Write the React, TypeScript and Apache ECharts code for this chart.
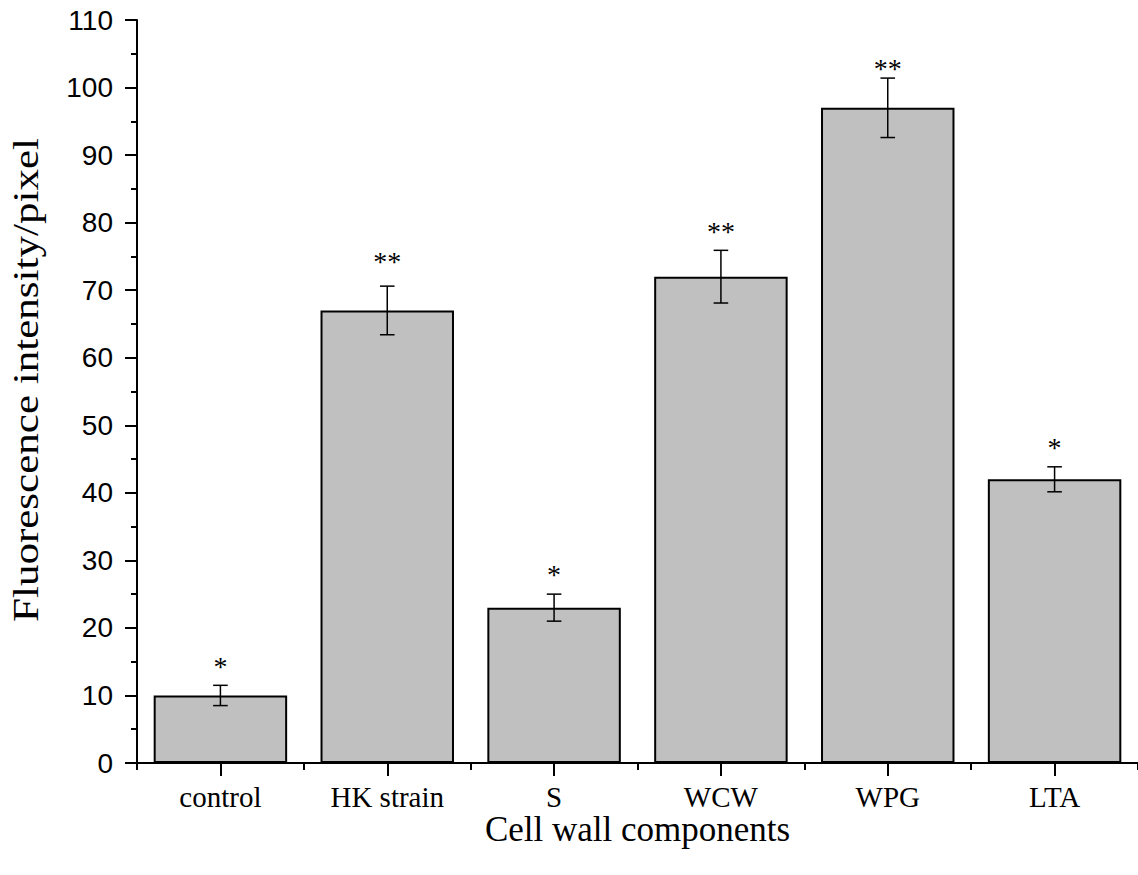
import React, { useEffect, useRef } from "react";
import * as echarts from "echarts";

const categories = ["control", "HK strain", "S", "WCW", "WPG", "LTA"];
const means = [10, 67, 23, 72, 97, 42];
const errors = [1.5, 3.6, 2.0, 3.9, 4.4, 1.85];
const stars = ["*", "**", "*", "**", "**", "*"];
const starLevels = [14.8, 74.7, 28.3, 79.2, 103.3, 47.1];
const yTicks = { min: 0, max: 110, interval: 10 };
const yTitle = "Fluorescence intensity/pixel";
const xTitle = "Cell wall components";

export default function App() {
  const ref = useRef<HTMLDivElement>(null);
  useEffect(() => {
    if (!ref.current) return;
    const chart = echarts.init(ref.current, undefined, { renderer: "svg" });
    const errData = categories.map((c, i) => [i, means[i], errors[i], starLevels[i]]);
    chart.setOption({
      animation: false,
      backgroundColor: "#ffffff",
      grid: { left: 137, right: -5, top: 20, bottom: 112, containLabel: false },
      graphic: [
        {
          type: "text",
          x: 26,
          y: 380,
          rotation: Math.PI / 2,
          scaleX: 1.23,
          style: {
            text: yTitle,
            fill: "#000",
            font: '35px "Liberation Serif"',
            align: "center",
            verticalAlign: "middle",
          },
        },
      ],
      xAxis: [
        {
          type: "category",
          data: categories,
          position: "bottom",
          axisLine: { show: true, lineStyle: { color: "#000", width: 2 } },
          axisTick: { show: true, alignWithLabel: true, length: 13, lineStyle: { color: "#000", width: 2 } },
          axisLabel: {
            color: "#000",
            fontFamily: "Liberation Serif",
            fontSize: 29,
            margin: 19,
          },
          name: xTitle,
          nameLocation: "middle",
          nameGap: 49,
          nameMoveOverlap: false,
          nameTextStyle: { color: "#000", fontFamily: "Liberation Serif", fontSize: 35 },
          splitLine: { show: false },
        },
        {
          type: "category",
          data: categories,
          position: "bottom",
          axisLine: { show: false },
          axisTick: { show: true, length: 7, lineStyle: { color: "#000", width: 2 } },
          axisLabel: { show: false },
          splitLine: { show: false },
        },
      ],
      yAxis: {
        type: "value",
        min: yTicks.min,
        max: yTicks.max,
        interval: yTicks.interval,
        axisLine: { show: true, lineStyle: { color: "#000", width: 2 } },
        axisTick: { show: true, length: 12, lineStyle: { color: "#000", width: 2 } },
        minorTick: { show: true, splitNumber: 2, length: 6, lineStyle: { color: "#000", width: 2 } },
        axisLabel: {
          color: "#000",
          fontFamily: "Liberation Sans",
          fontSize: 28,
          margin: 24,
        },
        splitLine: { show: false },
      },
      series: [
        {
          type: "bar",
          data: means,
          barWidth: "80%",
          itemStyle: { color: "#c0c0c0", borderColor: "#000", borderWidth: 2 },
          z: 2,
        },
        {
          type: "custom",
          data: errData,
          encode: { x: 0, y: 1 },
          z: 3,
          renderItem: (params: any, api: any) => {
            const idx = api.value(0);
            const m = api.value(1);
            const e = api.value(2);
            const sl = api.value(3);
            const s = stars[params.dataIndex];
            const top = api.coord([idx, m + e]);
            const bot = api.coord([idx, m - e]);
            const sp = api.coord([idx, sl]);
            const x = top[0];
            const hw = 7.3;
            const ls = { stroke: "#000", lineWidth: 1.5 };
            return {
              type: "group",
              children: [
                { type: "line", shape: { x1: x, y1: top[1], x2: x, y2: bot[1] }, style: ls },
                { type: "line", shape: { x1: x - hw, y1: top[1], x2: x + hw, y2: top[1] }, style: ls },
                { type: "line", shape: { x1: x - hw, y1: bot[1], x2: x + hw, y2: bot[1] }, style: ls },
                {
                  type: "text",
                  x: x,
                  y: sp[1] + 3,
                  style: {
                    text: s,
                    fill: "#000",
                    font: '28px "Liberation Serif"',
                    align: "center",
                    verticalAlign: "middle",
                  },
                },
              ],
            };
          },
        },
      ],
    });
    return () => chart.dispose();
  }, []);
  return (
    <div
      ref={ref}
      style={{ position: "fixed", left: 0, top: 0, width: 1138, height: 875, overflow: "hidden" }}
    />
  );
}
